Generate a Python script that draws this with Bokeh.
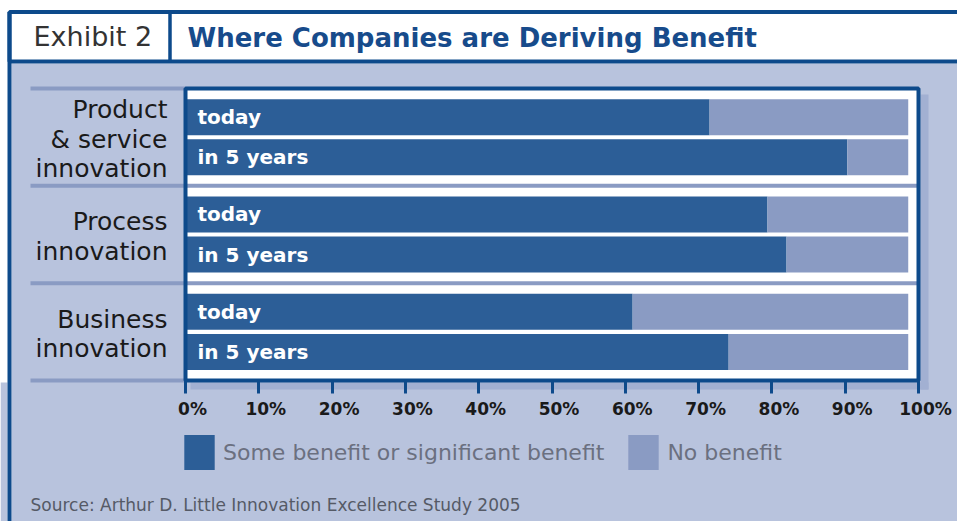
from bokeh.plotting import figure
from bokeh.models import (Range1d, LinearAxis, FixedTicker, Legend, LegendItem,
                          ColumnDataSource)
from bokeh.core.properties import value
from bokeh.embed import file_html
from bokeh.resources import INLINE

# ---------------- data ----------------
categories = ["Product\n& service\ninnovation", "Process\ninnovation", "Business\ninnovation"]
periods = ["today", "in 5 years"]
some_benefit_today = [71.5, 79.4, 61.0]
some_benefit_5y = [90.3, 82.0, 74.1]
no_benefit_today = [27.1, 19.2, 37.6]
no_benefit_5y = [8.3, 16.6, 24.5]
series_names = ["Some benefit or significant benefit", "No benefit"]
tick_values = [0, 10, 20, 30, 40, 50, 60, 70, 80, 90, 100]
tick_labels = ["0%", "10%", "20%", "30%", "40%", "50%", "60%", "70%", "80%", "90%", "100%"]
exhibit_label = "Exhibit 2"
title_text = "Where Companies are Deriving Benefit"
source_note = "Source: Arthur D. Little Innovation Excellence Study 2005"

# ---------------- style ----------------
BG = "#b8c3dd"
DARK = "#2c5e97"
LIGHT = "#8a9bc3"
NAVY = "#0d4a8b"
SHADOW = "#a2b0d2"
SEP = "#8a9bc3"
TITLE_C = "#174b8b"
FONT = "DejaVu Sans"

W, H = 957, 521
X0_PX, X100_PX = 185.0, 918.0
PPU = (X100_PX - X0_PX) / 100.0
G0_PX, PITCH = 136.7, 97.33
OFFSETS = [-0.206, 0.206]
BAR_H = 0.37

x_start, x_end = -X0_PX / PPU, (W - X0_PX) / PPU
p = figure(width=W, height=H,
           x_range=Range1d(x_start, x_end),
           y_range=Range1d((H - G0_PX) / PITCH, -G0_PX / PITCH),
           output_backend="svg", toolbar_location=None,
           x_axis_location=None, y_axis_location=None,
           min_border=0, outline_line_color=None,
           background_fill_color="white", border_fill_color="white")
p.grid.visible = False
lbl_shift = 7.0 / PPU
p.extra_x_ranges = {"px": Range1d(0, W), "lbl": Range1d(x_start - lbl_shift, x_end - lbl_shift)}
p.extra_y_ranges = {"px": Range1d(H, 0)}
PX = dict(x_range_name="px", y_range_name="px")

# background panels
p.quad(left=[11, 0], right=[W, 7], top=[63, 382], bottom=[H, H],
       fill_color=BG, line_color=None, **PX)
# header box
p.quad(left=[9], right=[W + 10], top=[11.5], bottom=[61], fill_color="white",
       line_color=NAVY, line_width=4, **PX)
p.segment(x0=[169.5], y0=[11.5], x1=[169.5], y1=[61], line_color=NAVY, line_width=3.5, **PX)
p.segment(x0=[9], y0=[11.5], x1=[9], y1=[H], line_color=NAVY, line_width=4, **PX)
# frame shadow
p.quad(left=[920, 190], right=[928, 928], top=[94, 382], bottom=[389, 389],
       fill_color=SHADOW, line_color=None, **PX)

n = len(categories)
top_edge, bottom_edge = -0.5, n - 0.5
# frame fill
p.quad(left=[0], right=[100], top=[top_edge], bottom=[bottom_edge],
       fill_color="white", line_color=None)
# separators
label_x0 = (30 - X0_PX) / PPU
bounds = [i - 0.5 for i in range(n + 1)]
sep_x1 = [0 if (b == top_edge or b == bottom_edge) else 100 for b in bounds]
p.segment(x0=[label_x0] * len(bounds), y0=bounds, x1=sep_x1, y1=bounds,
          line_color=SEP, line_width=4)

# bars
ys, some, total, labels = [], [], [], []
for g in range(n):
    for k, (s_vals, n_vals) in enumerate([(some_benefit_today, no_benefit_today),
                                          (some_benefit_5y, no_benefit_5y)]):
        ys.append(g + OFFSETS[k])
        some.append(s_vals[g])
        total.append(s_vals[g] + n_vals[g])
        labels.append(periods[k])
src = ColumnDataSource(dict(y=ys, some=some, total=total, label=labels))
r_dark = p.hbar(y="y", left=0, right="some", height=BAR_H, fill_color=DARK,
                line_color=None, source=src)
r_light = p.hbar(y="y", left="some", right="total", height=BAR_H, fill_color=LIGHT,
                 line_color=None, source=src)
p.text(x=(197 - X0_PX) / PPU, y="y", text="label", source=src,
       text_font=value(FONT), text_font_style="bold", text_font_size="20px",
       text_color="white", text_baseline="middle", text_align="left")

# frame outline
p.quad(left=[0], right=[100], top=[top_edge], bottom=[bottom_edge],
       fill_color=None, line_color=NAVY, line_width=4)

# category labels
p.text(x=[(167 - X0_PX) / PPU] * n, y=[g + 0.02 for g in range(n)], text=categories,
       text_font=value(FONT), text_font_size="25px", text_color="#1a1a1a",
       text_align="right", text_baseline="middle", text_line_height=1.02)

# header texts
p.text(x=[33], y=[36], text=[exhibit_label], text_font=value(FONT), text_font_size="27px",
       text_color="#333333", text_baseline="middle", **PX)
p.text(x=[187], y=[37], text=[title_text], text_font=value(FONT), text_font_style="bold",
       text_font_size="26px", text_color=TITLE_C, text_baseline="middle", **PX)

# source
p.text(x=[30], y=[504], text=[source_note], text_font=value(FONT), text_font_size="17px",
       text_color="#555a66", text_baseline="middle", **PX)

# axes: ticks and labels
ax_ticks = LinearAxis(ticker=FixedTicker(ticks=tick_values), fixed_location=bottom_edge,
                      major_tick_out=13, major_tick_in=0, major_tick_line_color=NAVY,
                      major_tick_line_width=3, minor_tick_line_color=None,
                      axis_line_color=None,
                      major_label_overrides={v: "" for v in tick_values})
ax_lbl = LinearAxis(x_range_name="lbl", ticker=FixedTicker(ticks=tick_values),
                    fixed_location=bottom_edge, major_tick_out=0, major_tick_in=0,
                    major_tick_line_color=None, minor_tick_line_color=None,
                    axis_line_color=None, major_label_standoff=18,
                    major_label_overrides=dict(zip(tick_values, tick_labels)),
                    major_label_text_font=FONT, major_label_text_font_style="bold",
                    major_label_text_font_size="17px", major_label_text_color="#1a1a1a")
p.add_layout(ax_ticks, "below")
p.add_layout(ax_lbl, "below")

# legend
legend = Legend(items=[LegendItem(label=series_names[0], renderers=[r_dark]),
                       LegendItem(label=series_names[1], renderers=[r_light])],
                orientation="horizontal", location=(180, 47),
                glyph_width=38, glyph_height=44, label_standoff=5, spacing=20,
                padding=0, margin=0, border_line_color=None, background_fill_alpha=0,
                label_text_font=FONT, label_text_font_size="22px",
                label_text_color="#6b7080")
p.add_layout(legend)

open("out.html", "w").write(file_html(p, INLINE))
